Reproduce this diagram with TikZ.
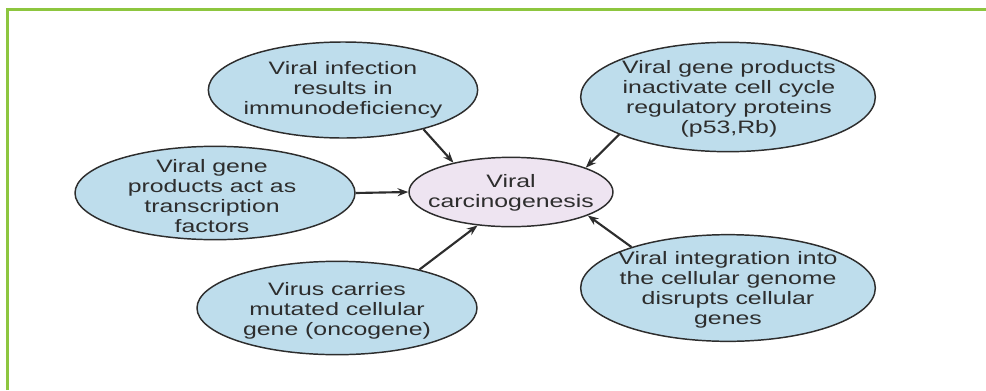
\documentclass[tikz,border=0pt]{standalone}
\usepackage{fontspec}
\setmainfont{Liberation Sans}[FakeStretch=1.38]
\usetikzlibrary{shapes.geometric,arrows.meta}

\definecolor{bubblefill}{RGB}{190,221,236}
\definecolor{corefill}{RGB}{238,228,241}
\definecolor{inkgray}{RGB}{45,45,45}
\definecolor{framegreen}{RGB}{141,198,63}

\tikzset{
  bubble/.style={ellipse,draw=inkgray,line width=1.1pt,fill=bubblefill,inner sep=0pt},
  caption/.style={align=center,font=\fontsize{13.5}{15}\selectfont,text=inkgray},
  feed/.style={-{Stealth[length=8pt,width=6pt]},line width=1.6pt,draw=inkgray}
}

\begin{document}
\begin{tikzpicture}[x=0.75pt,y=-0.75pt]
\useasboundingbox (0,0) rectangle (986,390);

% Frame
\draw[framegreen,line width=2pt] (7.5,390) -- (7.5,9.5) -- (986,9.5);

% Outer ellipses
\node[bubble,minimum width=202pt,minimum height=72pt] (infect) at (343,90) {};
\node[bubble,minimum width=221pt,minimum height=82pt] (p53) at (728,97) {};
\node[bubble,minimum width=210pt,minimum height=70pt] (trans) at (215,193) {};
\node[bubble,minimum width=210pt,minimum height=70pt] (onc) at (337,308) {};
\node[bubble,minimum width=221pt,minimum height=80pt] (integ) at (728,288) {};

% Centre
\node[bubble,fill=corefill,minimum width=153pt,minimum height=52pt] (carc) at (511,192) {};

% Labels
\node[caption] (infecttxt) at (343,90) {Viral infection\\results in\\immunodeficiency};
\node[caption] (p53txt) at (729,99) {Viral gene products\\inactivate cell cycle\\regulatory proteins\\(p53,Rb)};
\node[caption] (transtxt) at (212,196) {Viral gene\\products act as\\transcription\\factors};
\node[caption] (onctxt) at (337,311) {Virus carries\\mutated cellular\\gene (oncogene)};
\node[caption] (integtxt) at (728,290) {Viral integration into\\the cellular genome\\disrupts cellular\\genes};
\node[caption] (carctxt) at (511,193) {Viral\\carcinogenesis};

% Arrows into the centre
\draw[feed] (infect.-26) -- (carc.153);
\draw[feed] (p53.199) -- (carc.18);
\draw[feed] (trans.east) -- (carc.west);
\draw[feed] (onc.25) -- (carc.-135);
\draw[feed] (integ.157) -- (carc.-17);
\end{tikzpicture}
\end{document}
